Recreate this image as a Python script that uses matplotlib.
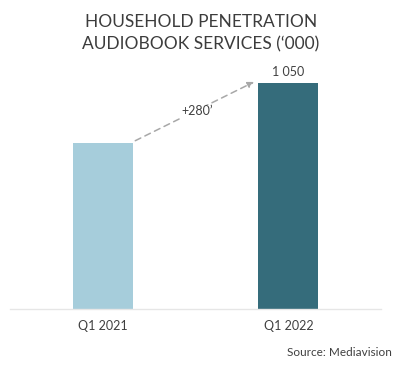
import matplotlib.pyplot as plt

plt.rcParams['font.family'] = ['Lato', 'DejaVu Sans']

# data
quarters = ['Q1 2021', 'Q1 2022']
households = [770, 1050]
bar_colors = ['#a6cddb', '#356c7b']
change_label = '+280\u2019'

fig = plt.figure(figsize=(4.02, 3.75), dpi=100)
ax = fig.add_axes([0.025, 0.176, 0.923, 0.664])

x = range(len(quarters))
ax.bar(x, households, width=0.325, color=bar_colors)
ax.set_xlim(-0.5, 1.5)
ax.set_ylim(0, 1157)

# value label on the last bar
ax.text(1, households[1] + 25, '1 050', ha='center', va='bottom',
        fontsize=9, color='#404040')

# dashed growth arrow
ax.annotate('', xy=(0.815, households[1] + 5), xytext=(0.175, households[0] + 12),
            arrowprops=dict(arrowstyle='-|>', linestyle=(0, (4, 3)),
                            color='#a8a8a8', lw=1.1, mutation_scale=9,
                            shrinkA=0, shrinkB=0))
ax.text(0.507, 918, change_label, ha='center', va='center', fontsize=9,
        color='#404040', zorder=5,
        bbox=dict(facecolor='white', edgecolor='none', pad=0.5))

ax.set_xticks(list(x))
ax.set_xticklabels(quarters, fontsize=9, color='#404040')
ax.tick_params(axis='x', length=0, pad=8)
ax.set_yticks([])
for s in ['top', 'right', 'left']:
    ax.spines[s].set_visible(False)
ax.spines['bottom'].set_color('#e6e6e6')
ax.spines['bottom'].set_linewidth(1)

fig.text(0.5, 0.912, 'HOUSEHOLD PENETRATION\nAUDIOBOOK SERVICES (\u2018000)',
         ha='center', va='center', fontsize=12.5, color='#3c3c3c',
         linespacing=1.5)
fig.text(0.975, 0.06, 'Source: Mediavision', ha='right', va='center',
         fontsize=8.5, color='#404040')

fig.savefig('out.png', dpi=100)
